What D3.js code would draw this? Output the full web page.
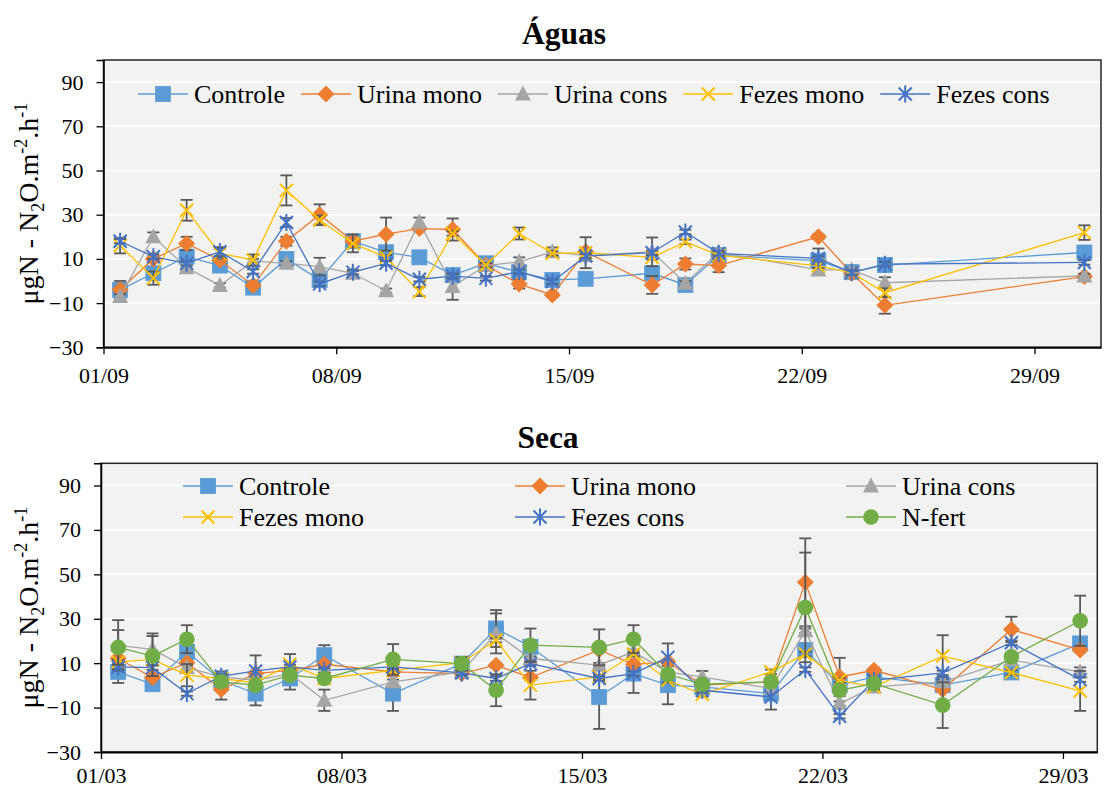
<!DOCTYPE html>
<html>
<head>
<meta charset="utf-8">
<script src="https://cdn.jsdelivr.net/npm/d3@7"></script>
<style>
  body { margin: 0; background: #fff; }
  svg { display: block; }
  text { font-family: "Liberation Serif", "Times New Roman", serif; fill: #000; }
</style>
</head>
<body>
<svg id="chart" width="1108" height="787"></svg>
<script>
// ---------- data ----------
const seriesNames = ["Controle", "Urina mono", "Urina cons", "Fezes mono", "Fezes cons", "N-fert"];
const yTicks = [-30, -10, 10, 30, 50, 70, 90];

// Rainy season (September)
const aguasDates = ["01/09","02/09","03/09","04/09","05/09","06/09","07/09","08/09","09/09","10/09","11/09",
                    "12/09","13/09","14/09","15/09","17/09","18/09","19/09","22/09","23/09","24/09","30/09"];
const aguasTicks = ["01/09","08/09","15/09","22/09","29/09"];
const aguasControle   = [-4, 3.5, 11, 7, -3, 10, 0.5, 18, 13, 10.7, 2.7, 8, 4, 0.5, 1, 3.5, -1.8, 11.7, 9.2, 4, 7.2, 12.9];
const aguasUrinaMono  = [-4, 10, 17, 9.5, -2, 18, 30, 18, 21.2, 23.7, 23.3, 7.2, -1.4, -6.3, 13.2, -1.8, 7.7, 7, 20, 3.5, -11, 2];
const aguasUrinaCons  = [-7, 20, 6, -2, 9, 8, 6.5, 3.5, -4.4, 26.7, -2.5, 7, 8.7, 13.2, 11.5, 13.2, -1, 13, 5, 5, -0.8, 2.3];
const aguasFezesMono  = [16, 1.3, 32, 12.5, 9.5, 41, 27.6, 17, 10.7, -4.8, 21.5, 7.2, 21.5, 12.5, 12.8, 10.7, 17.7, 11.7, 6.8, 3.8, -5.3, 21.9];
const aguasFezesCons  = [18, 11, 8, 13.3, 4.3, 26.5, -1.3, 4, 8, 0.8, 2.2, 1.2, 4.2, -0.3, 11.3, 12.8, 22.2, 12.5, 10.2, 3.8, 7.6, 8.4];
const aguasControleErr  = [4, 1, 2, 1, 1, 1, 1, 2, 1, 1, 1, 2, 1, 1, 1, 1, 1, 1, 5.5, 1, 1, 1];
const aguasUrinaMonoErr = [1, 1, 3, 1, 1, 2, 4.7, 1, 7.5, 1, 5, 1, 2, 1, 1, 4, 2.5, 3, 1, 1, 3.8, 1];
const aguasUrinaConsErr = [1, 2, 1, 1, 1, 1, 4, 1, 1, 2, 6, 1, 2, 2, 1, 6.5, 1, 1, 1, 1, 2.5, 1];
const aguasFezesMonoErr = [3.5, 3, 4.7, 2, 2.5, 6.8, 2, 4, 1, 2, 1, 1, 2.7, 1, 7, 1, 1, 1, 1, 1, 2, 3.3];
const aguasFezesConsErr = [1, 1, 1, 2, 1, 2, 1, 1, 1, 1, 1, 1, 1, 1, 1, 1, 1, 1, 1, 1, 1, 1];

// Dry season (March)
const secaDates = ["01/03","02/03","03/03","04/03","05/03","06/03","07/03","09/03","11/03","12/03","13/03",
                   "15/03","16/03","17/03","18/03","20/03","21/03","22/03","23/03","25/03","27/03","29/03"];
const secaTicks = ["01/03","08/03","15/03","22/03","29/03"];
const secaControle   = [6.1, 0.5, 15.1, 2.3, -3.7, 3.1, 13.6, -3.7, 9.8, 25.6, 17.4, -5.2, 5.3, 0.1, -0.7, -3.7, 15.9, 0.1, 3.8, 0.1, 5.8, 18.9];
const secaUrinaMono  = [12.1, 3.5, 10.2, -1.9, 5.3, 6.8, 9.5, 6.1, 5.3, 9.1, 3.5, 16, 9.5, 10.6, 0.1, 1.6, 46.4, 3.8, 6.8, -1.9, 25.2, 15.9];
const secaUrinaCons  = [18, 16.2, 8, 3.8, 2.3, 5.3, -6.7, 1.6, 6.1, 23.4, 12.1, 9.1, 15.1, 6, 3.8, -1.4, 24.6, -8.2, -0.7, 1.6, 11.4, 6.1];
const secaFezesMono  = [10.6, 11.7, 4.6, 3.1, 1.1, 9.5, 3.1, 6.8, 10.2, 20.4, 0.1, 3.8, 14.1, 2.3, -4, 6.1, 14.1, 2.3, -0.7, 13.2, 5.8, -2.5];
const secaFezesCons  = [8.3, 8, -3.7, 4.1, 6.5, 8.3, 6.8, 8.3, 5.6, 3.1, 9.8, 3.1, 5.3, 12.6, -2.2, -5.2, 7.1, -13.9, 2.3, 5.6, 19.2, 2.6];
const secaNFert      = [17.1, 13.2, 20.8, 1.6, 0.1, 4.6, 3.1, 11.7, 9.8, -2.2, 18.1, 17.1, 20.8, 5, 0.5, 1.6, 35.1, -2.2, 0.8, -8.9, 12.9, 29.1];
const secaControleErr  = [5, 1, 1, 4, 5.3, 5, 4.5, 7.8, 1, 8.3, 1, 14.4, 8.7, 8.6, 1, 1, 1, 1, 1, 1, 1, 1];
const secaUrinaMonoErr = [1, 1, 1, 4.5, 1, 1, 1, 1, 1, 1, 1, 1, 1, 1, 1, 1, 19.8, 8.6, 1, 1, 5.7, 1];
const secaUrinaConsErr = [11.4, 7.2, 1, 1, 1, 1, 4.8, 1, 1, 9, 1, 1, 1, 1, 2.7, 1, 1, 1, 1, 1, 1, 2];
const secaFezesMonoErr = [1, 1, 5, 1, 1, 4.6, 1, 1, 1, 1, 6.5, 1, 1, 1, 1, 1, 1, 1, 1, 9.4, 1, 9];
const secaFezesConsErr = [1, 1, 1, 1, 7, 1, 1, 1, 1, 1, 1, 1, 1, 6.3, 1, 5.7, 1, 1, 1, 1, 1, 1];
const secaNFertErr     = [7.8, 9, 6.3, 1, 1, 1, 1, 6.9, 3, 7.2, 7.5, 8.1, 6.3, 1, 1, 1, 24.7, 1, 1, 10.3, 1, 11.3];

// ---------- styles ----------
const seriesStyle = {
  "Controle":   { color: "#5B9BD5", marker: "square" },
  "Urina mono": { color: "#ED7D31", marker: "diamond" },
  "Urina cons": { color: "#A5A5A5", marker: "triangle" },
  "Fezes mono": { color: "#FFC000", marker: "x" },
  "Fezes cons": { color: "#4472C4", marker: "star" },
  "N-fert":     { color: "#70AD47", marker: "circle" }
};
const errColor = "#595959";

const parseDay = d3.utcParse("%d/%m");
const noon = s => new Date(parseDay(s).getTime() + 12 * 3600 * 1000);
const fmtDay = d3.utcFormat("%d/%m");

const svg = d3.select("#chart");

function drawMarker(g, type, color) {
  switch (type) {
    case "square":
      g.append("rect").attr("x", -7.5).attr("y", -7.5).attr("width", 15).attr("height", 15)
        .attr("fill", color).attr("stroke", color).attr("stroke-width", 0.8);
      break;
    case "diamond":
      g.append("path").attr("d", "M0,-8.5L8.5,0L0,8.5L-8.5,0Z").attr("fill", color);
      break;
    case "triangle":
      g.append("path").attr("d", "M0,-8.5L8,6.5L-8,6.5Z").attr("fill", color);
      break;
    case "circle":
      g.append("circle").attr("r", 7.8).attr("fill", color);
      break;
    case "x":
      g.append("path").attr("d", "M-6.5,-6.5L6.5,6.5M-6.5,6.5L6.5,-6.5")
        .attr("stroke", color).attr("stroke-width", 2).attr("fill", "none");
      break;
    case "star":
      g.append("path").attr("d", "M-6.5,-6.5L6.5,6.5M-6.5,6.5L6.5,-6.5M0,-8.5L0,8.5")
        .attr("stroke", color).attr("stroke-width", 2).attr("fill", "none");
      break;
  }
}

function drawChart(cfg) {
  const { box } = cfg;
  const x = d3.scaleUtc().domain([parseDay(cfg.start), parseDay(cfg.end)]).range([box.x0, box.x1]);
  const y = d3.scaleLinear().domain([-30, 100]).range([box.y1, box.y0]);
  const root = svg.append("g");

  // plot background
  root.append("rect").attr("x", box.x0).attr("y", box.y0)
    .attr("width", box.x1 - box.x0).attr("height", box.y1 - box.y0).attr("fill", "#F2F2F2");

  // horizontal gridlines
  root.append("g").selectAll("line").data(yTicks.filter(t => t > -30)).join("line")
    .attr("x1", box.x0).attr("x2", box.x1)
    .attr("y1", d => y(d)).attr("y2", d => y(d))
    .attr("stroke", "#FFFFFF").attr("stroke-width", 1.5);

  // border
  root.append("rect").attr("x", box.x0).attr("y", box.y0)
    .attr("width", box.x1 - box.x0).attr("height", box.y1 - box.y0)
    .attr("fill", "none").attr("stroke", "#262626").attr("stroke-width", 1.5);

  // y axis
  const yAxis = d3.axisLeft(y).tickValues(yTicks).tickSize(7).tickPadding(13).tickFormat(d3.format("d"));
  const ya = root.append("g").attr("transform", `translate(${box.x0},0)`).call(yAxis);
  ya.attr("font-family", null);
  ya.select(".domain").attr("stroke", "#000").attr("stroke-width", 1.5);
  ya.selectAll(".tick line").attr("stroke", "#000").attr("stroke-width", 1.3);
  ya.selectAll(".tick text").attr("font-size", 22).attr("fill", "#000");

  // x axis
  const xAxis = d3.axisBottom(x).tickValues(cfg.ticks.map(parseDay)).tickFormat(fmtDay)
    .tickSize(7).tickSizeOuter(0).tickPadding(cfg.xPad);
  const xa = root.append("g").attr("transform", `translate(0,${box.y1})`).call(xAxis);
  xa.attr("font-family", null);
  xa.select(".domain").attr("stroke", "#000").attr("stroke-width", 2);
  xa.selectAll(".tick line").attr("stroke", "#000").attr("stroke-width", 1.3);
  xa.selectAll(".tick text").attr("font-size", 22).attr("fill", "#000");

  // series
  const line = d3.line().x(d => x(d.date)).y(d => y(d.v));
  cfg.series.forEach(s => {
    const st = seriesStyle[s.name];
    const pts = cfg.dates.map((dt, i) => ({ date: noon(dt), v: s.values[i], e: s.errors[i] }));
    const g = root.append("g");
    // error bars
    const eb = g.append("g").selectAll("g").data(pts).join("g")
      .attr("stroke", errColor).attr("stroke-width", 1.8);
    eb.append("line").attr("x1", d => x(d.date)).attr("x2", d => x(d.date))
      .attr("y1", d => y(d.v - d.e)).attr("y2", d => y(d.v + d.e));
    eb.append("line").attr("x1", d => x(d.date) - 6).attr("x2", d => x(d.date) + 6)
      .attr("y1", d => y(d.v + d.e)).attr("y2", d => y(d.v + d.e));
    eb.append("line").attr("x1", d => x(d.date) - 6).attr("x2", d => x(d.date) + 6)
      .attr("y1", d => y(d.v - d.e)).attr("y2", d => y(d.v - d.e));
    // line
    g.append("path").datum(pts).attr("d", line).attr("fill", "none")
      .attr("stroke", st.color).attr("stroke-width", 1.3);
    // markers
    g.append("g").selectAll("g").data(pts).join("g")
      .attr("transform", d => `translate(${x(d.date)},${y(d.v)})`)
      .each(function () { drawMarker(d3.select(this), st.marker, st.color); });
  });

  // legend
  const lg = root.append("g");
  cfg.legend.forEach(item => {
    const st = seriesStyle[item.name];
    const gi = lg.append("g").attr("transform", `translate(${item.x},${item.y})`);
    gi.append("line").attr("x1", 0).attr("x2", 50).attr("y1", 0).attr("y2", 0)
      .attr("stroke", st.color).attr("stroke-width", 1.3);
    const m = gi.append("g").attr("transform", "translate(25,0)");
    drawMarker(m, st.marker, st.color);
    gi.append("text").attr("x", 56).attr("y", 0).attr("dy", "0.33em")
      .attr("font-size", 26).text(item.name);
  });

  // title
  root.append("text").attr("x", cfg.titleX).attr("y", cfg.titleY).attr("text-anchor", "middle")
    .attr("font-size", 31.5).attr("font-weight", "bold").text(cfg.title);

  // y label
  const cy = (box.y0 + box.y1) / 2;
  const yl = root.append("text").attr("transform", `translate(${cfg.yLabelX},${cy}) rotate(-90)`)
    .attr("text-anchor", "middle").attr("font-size", 28);
  yl.append("tspan").text("μgN - N");
  yl.append("tspan").attr("font-size", 18).attr("dy", 6).text("2");
  yl.append("tspan").attr("dy", -6).text("O.m");
  yl.append("tspan").attr("font-size", 18).attr("dy", -11).text("-2");
  yl.append("tspan").attr("dy", 11).text(".h");
  yl.append("tspan").attr("font-size", 18).attr("dy", -11).text("-1");
}

function makeSeries(names, values, errors) {
  return names.map((n, i) => ({ name: n, values: values[i], errors: errors[i] }));
}

// top chart: single-row legend
const topNames = seriesNames.slice(0, 5);
const topLegend = [];
{
  let lx = 138;
  const tmp = svg.append("text").attr("font-size", 26);
  topNames.forEach(n => {
    topLegend.push({ name: n, x: lx, y: 94 });
    tmp.text(n);
    lx += 56 + tmp.node().getComputedTextLength() + 16;
  });
  tmp.remove();
}

drawChart({
  title: "Águas", titleX: 564, titleY: 44,
  start: "01/09", end: "01/10", ticks: aguasTicks, dates: aguasDates,
  box: { x0: 103.5, x1: 1101, y0: 60, y1: 347.3 }, xPad: 13, yLabelX: 38,
  series: makeSeries(topNames,
    [aguasControle, aguasUrinaMono, aguasUrinaCons, aguasFezesMono, aguasFezesCons],
    [aguasControleErr, aguasUrinaMonoErr, aguasUrinaConsErr, aguasFezesMonoErr, aguasFezesConsErr]),
  legend: topLegend
});

// bottom chart: three-column legend
const colX = [183, 515, 846], rowY = [486, 517];
drawChart({
  title: "Seca", titleX: 548, titleY: 448,
  start: "01/03", end: "30/03", ticks: secaTicks, dates: secaDates,
  box: { x0: 101, x1: 1097.3, y0: 463.3, y1: 752 }, xPad: 8, yLabelX: 38,
  series: makeSeries(seriesNames,
    [secaControle, secaUrinaMono, secaUrinaCons, secaFezesMono, secaFezesCons, secaNFert],
    [secaControleErr, secaUrinaMonoErr, secaUrinaConsErr, secaFezesMonoErr, secaFezesConsErr, secaNFertErr]),
  legend: seriesNames.map((n, i) => ({ name: n, x: colX[i % 3], y: rowY[Math.floor(i / 3)] }))
});
</script>
</body>
</html>
